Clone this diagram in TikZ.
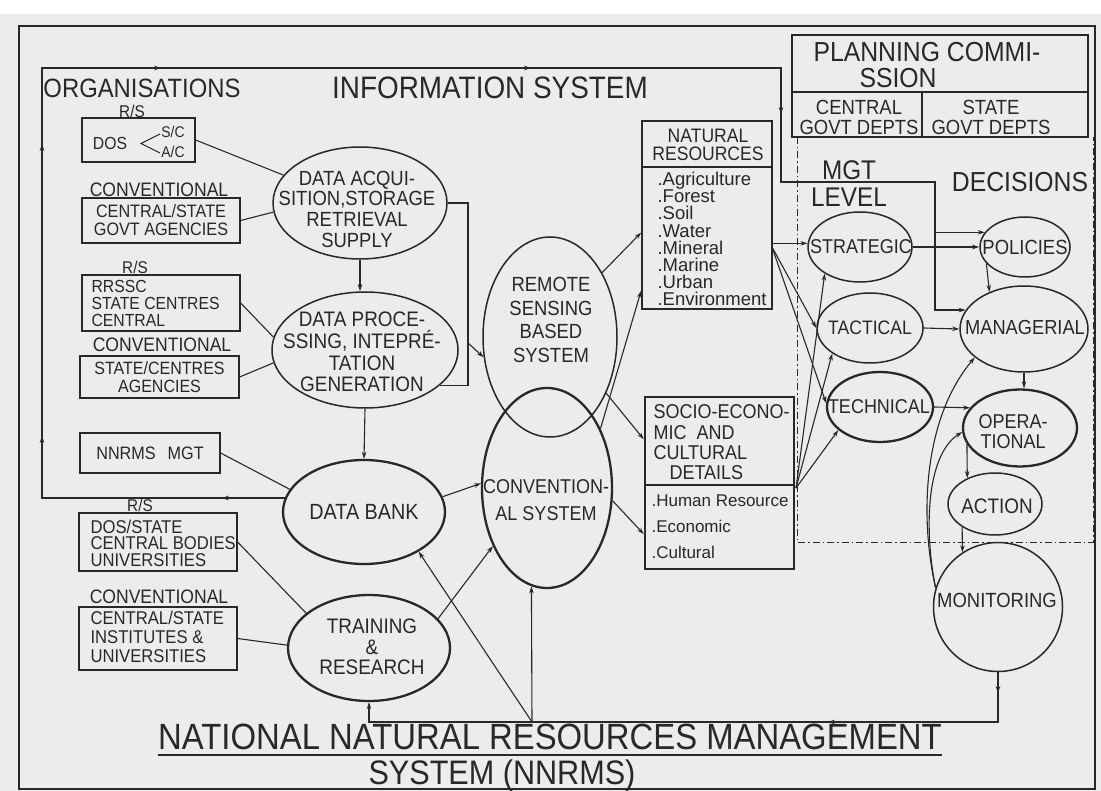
\documentclass[tikz,border=0pt]{standalone}
\usepackage{fontspec}
\setmainfont{Liberation Sans}[FakeStretch=0.9]
\newfontfamily\widefont{Liberation Sans}
\usetikzlibrary{shapes.geometric,arrows.meta,decorations.markings}
\definecolor{paper}{RGB}{236,236,236}
\definecolor{ink}{RGB}{40,40,40}
\newcommand{\fsz}[2]{\fontsize{#1}{#2}\selectfont}
\tikzset{
  txt/.style={inner sep=0pt, text=ink},
  orgbox/.style={draw=ink, line width=1.2pt, inner sep=0pt},
  bubble/.style={draw=ink, ellipse, line width=1.5pt, inner sep=0pt},
  heavy/.style={line width=2.3pt},
}
\begin{document}
\begin{tikzpicture}[x=1pt, y=-1pt, ink, line width=1.1pt, >={Stealth[length=7pt,width=4.5pt]}]
  \useasboundingbox (0,0) rectangle (1101,791);
  \fill[paper] (0,14) rectangle (1101,791);
  \draw[line width=1.6pt] (19,26) rectangle (1095,789);

  % headings
  \node[txt, font=\fsz{26.5}{26.5}] (orgs) at (142,88) {ORGANISATIONS};
  \node[txt, font=\fsz{31}{31}] (infosys) at (490,88) {INFORMATION SYSTEM};

  % organisations
  \node[txt, font=\fsz{17}{17}] (rs1) at (132,111) {R/S};
  \node[orgbox, minimum width=113pt, minimum height=44pt] (dos) at (138.5,140) {};
  \node[txt, font=\fsz{17.5}{17.5}] (dos-t) at (110,143) {DOS};
  \node[txt, align=center, font=\fsz{15.5}{19.5}] (sc) at (173,142) {S/C\\A/C};
  \draw (160,134) -- (141,143.5) -- (160,153);
  \node[txt, font=\fsz{19.5}{19.5}] (conv1) at (159,190) {CONVENTIONAL};
  \node[orgbox, minimum width=158pt, minimum height=45pt, align=center, font=\fsz{18}{18}] (cgov) at (161,220.5) {CENTRAL/STATE\\GOVT AGENCIES};
  \node[txt, font=\fsz{17}{17}] (rs2) at (135,267) {R/S};
  \node[orgbox, minimum width=158pt, minimum height=56pt] (rrssc) at (161,303) {};
  \node[txt, anchor=west, align=left, font=\fsz{17.5}{17}] (rrssc-t) at (91,303) {RRSSC\\STATE CENTRES\\CENTRAL};
  \node[txt, font=\fsz{19.5}{19.5}] (conv2) at (162,345) {CONVENTIONAL};
  \node[orgbox, minimum width=159pt, minimum height=42pt, align=center, font=\fsz{17.8}{18}] (sca) at (159.5,377) {STATE/CENTRES\\AGENCIES};
  \node[orgbox, minimum width=140pt, minimum height=40pt, font=\fsz{18}{18}] (nmgt) at (150,453) {NNRMS\hspace{12pt}MGT};
  \node[txt, font=\fsz{17}{17}] (rs3) at (140,505) {R/S};
  \node[orgbox, minimum width=158pt, minimum height=58pt] (dosst) at (158,542) {};
  \node[txt, anchor=west, align=left, font=\fsz{18.5}{16.5}] (dosst-t) at (90,543) {DOS/STATE\\CENTRAL BODIES\\UNIVERSITIES};
  \node[txt, font=\fsz{19.5}{19.5}] (conv3) at (159,597) {CONVENTIONAL};
  \node[orgbox, minimum width=158pt, minimum height=63pt] (inst) at (158,638.5) {};
  \node[txt, anchor=west, align=left, font=\fsz{18.5}{19}] (inst-t) at (90,637) {CENTRAL/STATE\\INSTITUTES \&\\UNIVERSITIES};

  % information system
  \node[bubble, minimum width=174pt, minimum height=112pt] (acq) at (360,203) {};
  \node[txt, align=center, font=\fsz{20.5}{20.7}] (acq-t) at (357,209) {DATA ACQUI-\\SITION,STORAGE\\RETRIEVAL\\SUPPLY};
  \node[bubble, minimum width=186pt, minimum height=116pt] (proc) at (365,350) {};
  \node[txt, align=center, font=\fsz{21}{21.7}] (proc-t) at (362,352) {DATA PROCE-\\SSING, INTEPRÉ-\\TATION\\GENERATION};
  \node[bubble, heavy, minimum width=162pt, minimum height=104pt, font=\fsz{22}{22}] (bank) at (364,512) {DATA BANK};
  \node[bubble, heavy, minimum width=162pt, minimum height=106pt] (train) at (369,648) {};
  \node[txt, align=center, font=\fsz{21}{20.5}] (train-t) at (372,647) {TRAINING\\\&\\RESEARCH};
  \node[bubble, minimum width=134pt, minimum height=200pt] (rs) at (550,337) {};
  \node[txt, align=center, font=\fsz{20.5}{23.5}] (rs-t) at (551,320) {REMOTE\\SENSING\\BASED\\SYSTEM};
  \node[bubble, heavy, minimum width=130pt, minimum height=200pt] (conv) at (547,488) {};
  \node[txt, align=center, font=\fsz{20}{27}] (conv-t) at (546,500) {CONVENTION-\\AL SYSTEM};

  % resources
  \node[draw, line width=1.8pt, minimum width=130pt, minimum height=188pt, inner sep=0pt] (nr) at (707,215) {};
  \coordinate (nrcut) at (0,167);
  \draw[line width=1.5pt] (nr.west |- nrcut) -- (nr.east |- nrcut);
  \node[txt, align=center, font=\fsz{19.5}{18.5}] (nr-t) at (708,145) {NATURAL\\RESOURCES};
  \node[txt, anchor=west, align=left, font=\widefont\fsz{18.5}{17.1}] (nr-l) at (657,239) {.Agriculture\\.Forest\\.Soil\\.Water\\.Mineral\\.Marine\\.Urban\\.Environment};
  \node[draw, line width=2.5pt, minimum width=149pt, minimum height=172pt, inner sep=0pt] (se) at (719.5,483) {};
  \coordinate (secut) at (0,485);
  \draw[line width=1.5pt] (se.west |- secut) -- (se.east |- secut);
  \node[txt, anchor=west, align=left, font=\fsz{20}{20.3}] (se-t) at (653,442.5) {SOCIO-ECONO-\\MIC\hspace{10pt}AND\\CULTURAL\\\hspace{16pt}DETAILS};
  \node[txt, anchor=west, align=left, font=\widefont\fsz{17}{26}] (se-l) at (651,527) {.Human Resource\\.Economic\\.Cultural};

  % planning commission
  \node[draw, line width=1.6pt, minimum width=296pt, minimum height=102pt, inner sep=0pt] (plan) at (940,86) {};
  \coordinate (plcut) at (0,92);
  \coordinate (plmid) at (922,92);
  \draw (plan.west |- plcut) -- (plan.east |- plcut);
  \draw (plmid) -- (plmid |- plan.south);
  \node[txt, anchor=west, align=left, font=\fsz{27.5}{25.5}] (plan-t) at (813,65) {PLANNING COMMI-\\\hspace{46pt}SSION};
  \node[txt, align=center, font=\fsz{20.5}{20}] (cgd) at (859,117) {CENTRAL\\GOVT DEPTS};
  \node[txt, align=center, font=\fsz{20.5}{20}] (sgd) at (991,117) {STATE\\GOVT DEPTS};
  \draw[line width=1pt, dash pattern=on 7pt off 3pt on 1.5pt off 3pt] (797,137) -- (797,542) -- (1093,542) -- (1093,137);

  % management levels and decisions
  \node[txt, align=center, font=\fsz{27}{27}] (mgt) at (849,184) {MGT\\LEVEL};
  \node[txt, font=\fsz{27.5}{27.5}] (dec) at (1020,182) {DECISIONS};
  \node[bubble, minimum width=104pt, minimum height=70pt] (strat) at (860,247) {};
  \node[txt, font=\fsz{20}{20}] (strat-t) at (861,247) {STRATEGIC};
  \node[bubble, minimum width=106pt, minimum height=70pt] (tact) at (870,328) {};
  \node[txt, font=\fsz{19.5}{19.5}] (tact-t) at (870,328) {TACTICAL};
  \node[bubble, heavy, minimum width=106pt, minimum height=70pt] (tech) at (880,407) {};
  \node[txt, font=\fsz{20}{20}] (tech-t) at (879,407) {TECHNICAL};
  \node[bubble, minimum width=90pt, minimum height=60pt] (pol) at (1025,247) {};
  \node[txt, font=\fsz{20.5}{20.5}] (pol-t) at (1025,247) {POLICIES};
  \node[bubble, minimum width=128pt, minimum height=86pt] (man) at (1024,329) {};
  \node[txt, font=\fsz{20.3}{20.3}] (man-t) at (1025,328) {MANAGERIAL};
  \node[bubble, heavy, minimum width=114pt, minimum height=77pt] (oper) at (1020,428) {};
  \node[txt, align=center, font=\fsz{20}{20}] (oper-t) at (1013,432) {OPERA-\\TIONAL};
  \node[bubble, minimum width=94pt, minimum height=62pt] (act) at (995,504) {};
  \node[txt, font=\fsz{21}{21}] (act-t) at (997,506) {ACTION};
  \node[bubble, minimum width=129pt, minimum height=129pt] (mon) at (998,607) {};
  \node[txt, font=\fsz{20.5}{20.5}] (mon-t) at (997,600) {MONITORING};

  % title
  \node[txt, anchor=base, font=\fsz{36.5}{36.5}] (title1) at (550,749) {NATIONAL NATURAL RESOURCES MANAGEMENT};
  \node[txt, anchor=base, font=\fsz{34}{34}] (title2) at (502,784) {SYSTEM (NNRMS)};
  \draw[line width=1.4pt] ([yshift=-5pt]title1.south west) -- ([yshift=-5pt]title1.south east);

  % links from organisations
  \draw (dos.east) -- (acq.160);
  \draw (cgov.east) -- (acq.186);
  \draw (rrssc.east) -- (proc.172);
  \draw (sca.east) -- (proc.188);
  \draw (nmgt.east) -- (bank.163);
  \draw (dosst.east) -- (train.151);
  \draw (inst.east) -- (train.178);

  % information flow
  \coordinate (brk) at (468,343);
  \draw[->] (acq.south) -- (acq.south |- proc.north);
  \draw[->] (proc.south) -- (bank.north);
  \draw (acq.east) -- (acq.east -| brk) -- (brk |- proc.335) -- (proc.335);
  \draw[->] (brk) -- (rs.197);
  \draw[->] (bank.11) -- (conv.176);
  \draw[->] (train.23) -- (conv.227);
  \draw[->] (rs.51) -- (nr.195);
  \draw[->] (conv.48) -- (nr.229);
  \draw[->] (rs.315) -- (se.150);
  \draw[->] (conv.349) -- (se.214);

  % loop round the information system
  \coordinate (lb) at (42,499);
  \coordinate (lt) at (42,68);
  \coordinate (rt) at (781,68);
  \coordinate (rm) at (781,182);
  \coordinate (dm) at (935,182);
  \draw[->, postaction=decorate, decoration={markings,
      mark=at position 63pt with {\arrow{>}},
      mark=at position 305pt with {\arrow{>}},
      mark=at position 597pt with {\arrow{>}},
      mark=at position 792pt with {\arrow{>}},
      mark=at position 1162pt with {\arrow{>}},
      mark=at position 1458pt with {\arrow{>}}}]
    (bank.170) -- (bank.170 -| lb) -- (lt) -- (rt) -- (rm) -- (dm) -- (dm |- man.162) -- (man.162);
  \draw[->] (dm |- pol.160) -- (pol.160);

  % feedback
  \coordinate (fb) at (532,722);
  \draw[->, postaction=decorate, decoration={markings,
      mark=at position 21pt with {\arrow{>}},
      mark=at position 220pt with {\arrow{>}}}]
    (mon.south) -- (mon.south |- fb) -- (train.south |- fb) -- (train.south);
  \draw[->] (fb) -- (conv.261);
  \draw[->] (fb) -- (bank.324);

  % management links
  \coordinate (nrp) at (772,247);
  \coordinate (sep) at (796,488);
  \draw[->] (nr.east |- strat.176) -- (strat.176);
  \draw[->] (nrp) -- (tact.west);
  \draw[->] (nrp) -- (tech.176);
  \draw[->] (sep) -- (strat.217);
  \draw[->] (sep) -- (tact.214);
  \draw[->] (sep) -- (tech.209);
  \draw[->] (strat.east) -- (pol.west);
  \draw[->] (tact.east) -- (man.west);
  \draw[->] (tech.east) -- (oper.158);
  \draw[->] (pol.203) -- (man.133);
  \draw[->] (man.south) -- (man.south |- oper.north);
  \draw[->] (oper.197) -- (act.137);
  \draw[->] (act.215) -- (mon.123);
  \draw[->] (mon.163) .. controls (920,520) and (922,420) .. (man.210);
  \draw[->] (mon.163) .. controls (924,530) and (926,455) .. (oper.184);
\end{tikzpicture}
\end{document}
